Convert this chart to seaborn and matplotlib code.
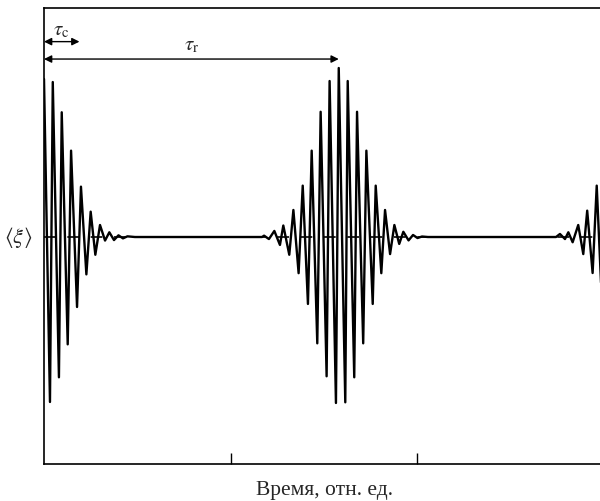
import matplotlib
matplotlib.use("Agg")
import matplotlib.pyplot as plt
import numpy as np
import pandas as pd
import seaborn as sns

# Extrema of <xi>(t) (time in relative units)
t_collapse = [0.000, 0.032, 0.047, 0.080, 0.095, 0.127, 0.145, 0.177, 0.198, 0.227,
              0.250, 0.275, 0.300, 0.327, 0.350, 0.375, 0.399, 0.423, 0.447, 0.487]
xi_collapse = [0.935, -0.976, 0.917, -0.830, 0.738, -0.635, 0.511, -0.414, 0.298, -0.221,
               0.150, -0.105, 0.071, -0.021, 0.028, -0.018, 0.010, -0.008, 0.004, 0.0]

t_revival = [1.168, 1.179, 1.205, 1.234, 1.264, 1.282, 1.314, 1.336, 1.364, 1.386,
             1.414, 1.434, 1.464, 1.482, 1.514, 1.530, 1.564, 1.579, 1.614, 1.627,
             1.662, 1.677, 1.710, 1.727, 1.761, 1.777, 1.807, 1.827, 1.854, 1.877,
             1.903, 1.925, 1.953, 1.977, 2.001, 2.025, 2.057]
xi_revival = [0.0, 0.008, -0.012, 0.036, -0.047, 0.068, -0.105, 0.160, -0.214, 0.304,
              -0.396, 0.511, -0.629, 0.741, -0.824, 0.923, -0.982, 1.0, -0.978, 0.923,
              -0.830, 0.741, -0.629, 0.511, -0.396, 0.304, -0.214, 0.160, -0.101, 0.071,
              -0.041, 0.031, -0.020, 0.012, -0.006, 0.003, 0.0]

t_second = [2.743, 2.764, 2.791, 2.809, 2.832, 2.862, 2.889, 2.910, 2.939, 2.961,
            2.989, 3.011]
xi_second = [0.0, 0.018, -0.012, 0.028, -0.031, 0.071, -0.101, 0.156, -0.213, 0.304,
             -0.396, 0.511]

tau_c = 0.19  # collapse time

df = pd.DataFrame({"t": t_collapse + t_revival + t_second,
                   "xi": xi_collapse + xi_revival + xi_second})
tau_r = df.loc[df.xi.idxmax(), "t"]  # revival time

sns.set_style("white")
plt.rcParams['font.family'] = ['Liberation Serif', 'DejaVu Serif']
plt.rcParams['mathtext.fontset'] = 'stix'

fig = plt.figure(figsize=(6, 5.02), dpi=100)
ax = fig.add_axes([44 / 600, 37 / 502, 560 / 600, 456 / 502])

ax.axhline(0, color='black', lw=1.2, ls=(0, (7, 7)), zorder=1)
sns.lineplot(data=df, x="t", y="xi", ax=ax, color='black', lw=1.7, zorder=2)

ax.set_xlim(0, 3)
ax.set_ylim(-1.343, 1.355)
ax.set_xticks([1, 2])
ax.set_xticklabels([])
ax.set_yticks([])
ax.tick_params(axis='x', direction='in', length=8, width=1, color='black', bottom=True)
for s in ax.spines.values():
    s.set_color('black')
    s.set_linewidth(1.2)

ax.set_xlabel("Время, отн. ед.", fontsize=15.5, labelpad=8)
ax.set_ylabel("")
fig.text(18 / 600, 1 - 238 / 502, r'$\langle\xi\rangle$', fontsize=16,
         ha='center', va='center')

# collapse and revival arrows
arrow = dict(arrowstyle='<|-|>', color='black', lw=1.0, mutation_scale=11,
             shrinkA=0, shrinkB=0)
ax.annotate("", xy=(0, 1.156), xytext=(tau_c, 1.156), arrowprops=arrow)
ax.annotate("", xy=(0, 1.053), xytext=(tau_r, 1.053), arrowprops=arrow)
ax.text(tau_c / 2, 1.225, r'$\tau_{\rm c}$', fontsize=15, ha='center', va='center')
ax.text(tau_r / 2, 1.135, r'$\tau_{\rm r}$', fontsize=15, ha='center', va='center')

fig.savefig("out.png", dpi=100)
